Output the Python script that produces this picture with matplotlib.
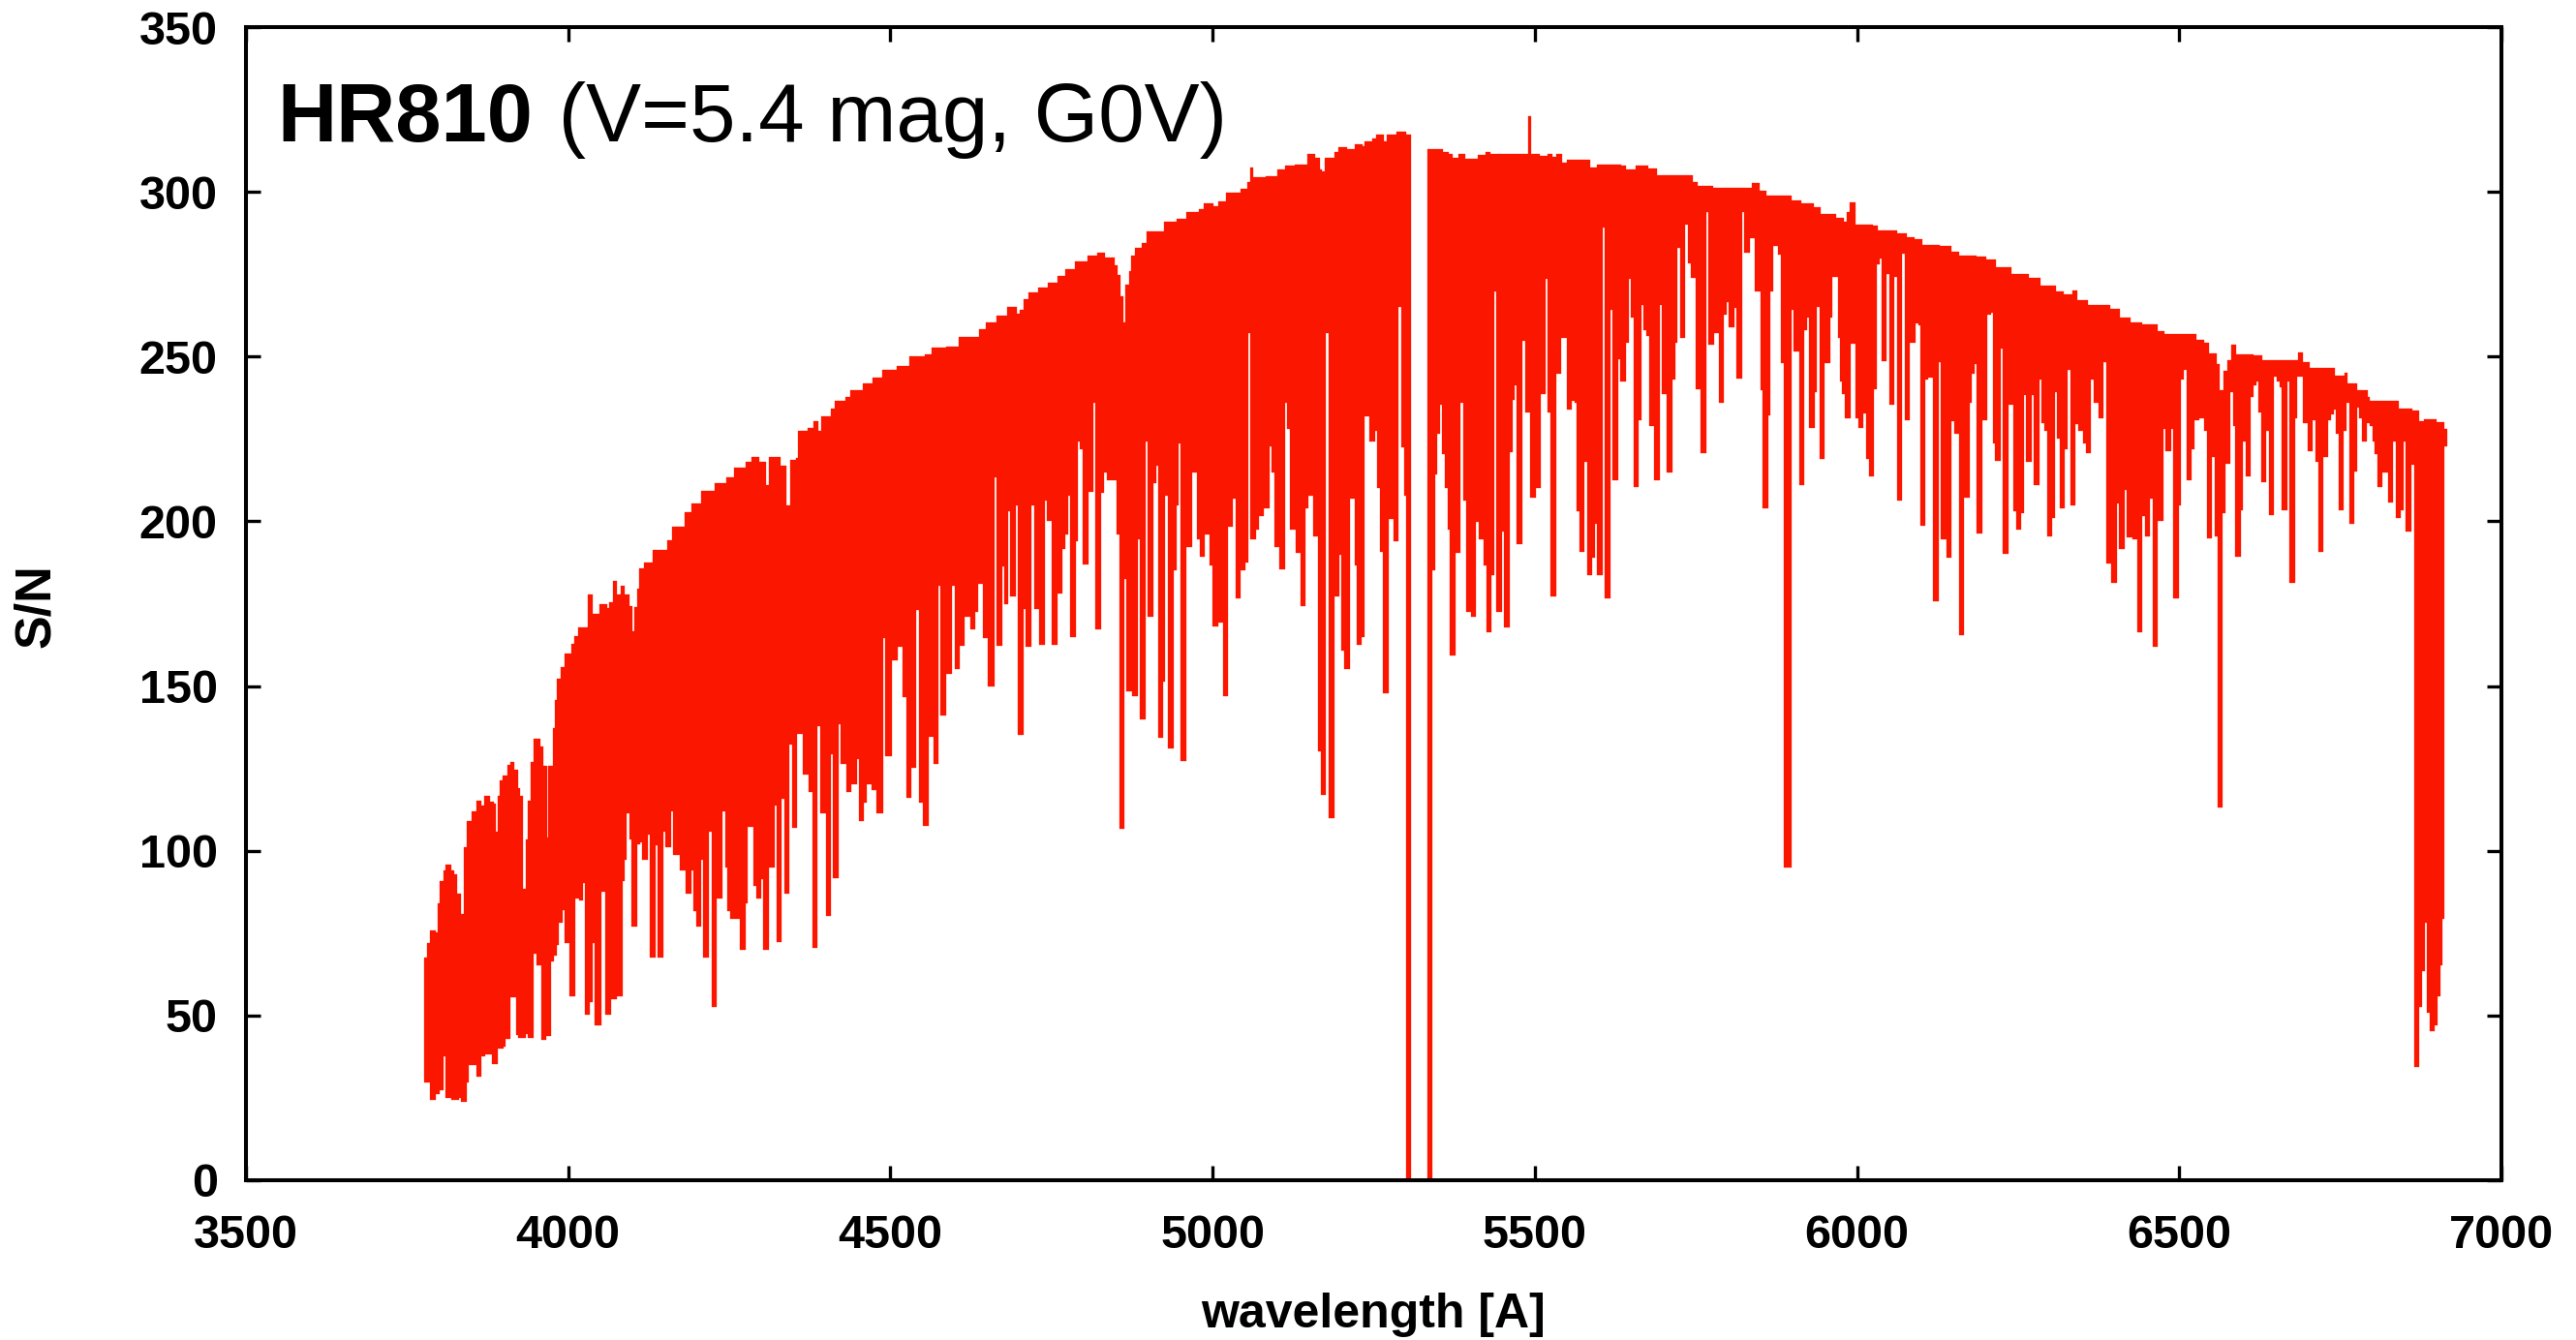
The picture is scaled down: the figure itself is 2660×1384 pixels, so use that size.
import numpy as np
import matplotlib
matplotlib.use("Agg")
import matplotlib.pyplot as plt

x_ticks = [3500, 4000, 4500, 5000, 5500, 6000, 6500, 7000]
y_ticks = [0, 50, 100, 150, 200, 250, 300, 350]
x_title = "wavelength [A]"
y_title = "S/N"
star_name = "HR810"
star_info = " (V=5.4 mag, G0V)"

# (wavelength, S/N); each value holds up to the next wavelength
upper_blue = [
 (3777,67.5),(3781,72.1),(3786,75.9),(3794,75.3),(3798,84.1),(3801,90.9),(3806,94.1),(3810,95.7),(3818,93.9),(3823,93),
 (3827,87),(3834,80.7),(3838,101.1),(3842,108.9),(3850,111.9),(3857,115.3),(3865,113.7),(3870,116.7),(3878,114.9),(3884,114.3),
 (3887,105.9),(3890,116.7),(3894,121.5),(3898,122.9),(3906,126.1),(3911,126.9),(3917,124.5),(3922,119.1),(3926,116.7),(3930,88.5),
 (3934,103.5),(3938,115.3),(3942,126.9),(3947,134.1),(3957,131.7),(3962,125.7),(3967,104.1),(3969,125.7),(3976,137.3),(3979,145.7),
 (3982,152.1),(3988,155.7),(3994,159.9),(4005,162.9),(4009,165.3),(4015,167.7),(4030,177.9),(4038,171.9),(4048,174.9),(4061,173.7),
 (4064,175.5),(4070,181.9),(4076,177.9),(4081,180.3),(4088,177.9),(4095,174.3),(4099,166.5),(4103,173.9),(4107,179.7),(4110,185.7),
 (4118,187.5),(4131,191.3),(4154,194.2),(4161,198.3),(4181,202.9),(4192,205.3),(4207,209.3),(4227,211.7),(4246,213.4),(4257,216.3),
 (4276,218),(4284,219.6),(4296,218),(4307,211),(4311,219.6),(4330,216.9),(4339,204.7),(4345,218.6),(4353,219.2),(4357,227.4),
 (4372,228.2),(4380,230.5),(4388,227.4),(4392,232),(4407,234.3),(4414,236.7),(4430,237.8),(4438,239.8),(4457,241.9),(4472,243.6),
 (4487,246),(4510,247.1),(4530,250),(4553,250.6),(4564,252.6),(4587,253),(4606,256.1),(4637,258.2),(4648,260.5),(4664,262.3),
 (4681,265),(4696,262.9),(4701,264.2),(4707,267.4),(4715,269.5),(4730,271),(4745,272.5),(4760,274.5),(4771,276.5),(4787,278.8),
 (4806,280.5),(4821,281.5),(4833,280.2),(4848,277.6),(4853,274.7),(4857,268.3),(4862,260.4),(4865,271.8),(4870,275.9),(4873,280.5),
 (4879,283.1),(4890,284.6),(4898,288.1),(4925,291),(4944,291.8),(4959,293.9),(4978,294.8),(4986,296.5),(5001,295.7),(5009,297.2),
 (5021,299.7),(5044,300.9),(5054,303),(5058,307.3),(5063,304.4),(5082,304.6),(5101,306.7),(5113,308.1),(5128,308.4),(5147,311.4),
 (5159,310.2),(5166,306.7),(5170,306.1),(5174,310.4),(5189,312),(5195,313.7),(5209,313.1),(5220,314.3),(5232,314),(5235,315.4),
 (5247,316.2),(5254,317.5),(5266,315.4),(5270,317.5),(5285,318.3),(5300,317.5),(5308,317.5),
]
upper_red = [
 (5333,312.9),(5358,312.2),(5366,311.4),(5373,310.4),(5381,311.4),(5392,310),(5412,311.1),(5423,312),(5431,311.4),(5489,323),
 (5494,311.4),(5507,310.8),(5519,311.4),(5527,310.5),(5534,311.4),(5542,309),(5550,309.8),(5577,309.6),(5586,307.5),(5596,308.2),
 (5634,308.1),(5642,306.7),(5657,307.9),(5676,307),(5689,305),(5745,303),(5753,301.8),(5776,301.1),(5825,301.1),(5837,302.6),
 (5849,300.3),(5860,298.8),(5891,298.8),(5899,297.4),(5914,296.5),(5933,295.2),(5944,293.4),(5967,292.2),(5979,290.8),(5984,294),
 (5988,296.8),(5998,290),(6025,289.8),(6032,288.4),(6063,287.4),(6078,286.3),(6090,285.6),(6101,283.8),(6128,283.5),(6147,281.7),
 (6159,280.5),(6186,280.3),(6201,279.5),(6216,277.2),(6239,275.1),(6266,273.8),(6285,271.4),(6309,269.8),(6320,268.8),(6334,270.1),
 (6342,267.2),(6358,265.6),(6393,264.6),(6408,261.7),(6424,260.4),(6443,259.9),(6466,257.7),(6477,256.9),(6512,256.9),(6527,255.1),
 (6539,254.1),(6546,250.9),(6558,247.8),(6562,239.9),(6569,245.7),(6575,248.8),(6581,253.6),(6588,250.6),(6615,250.4),(6629,249),
 (6677,248.8),(6684,251.2),(6692,248.3),(6703,246.7),(6742,244.1),(6757,245.2),(6761,242),(6776,239.7),(6792,237.8),(6796,236.5),
 (6831,236.5),(6841,234.1),(6861,233.6),(6872,230.5),(6880,231),(6899,230.2),(6911,228),(6916,228),
]
lower_blue = [
 (3777,29.7),(3786,24.5),(3794,26.1),(3800,27.3),(3806,37.5),(3810,24.9),(3819,24.3),(3831,24.9),(3834,23.7),(3842,29.7),
 (3846,35.1),(3857,31.5),(3865,37.5),(3871,38.1),(3882,35.3),(3890,39.9),(3900,40.5),(3903,42.9),(3910,55.5),(3919,44.1),
 (3923,43.3),(3934,44.5),(3938,43.3),(3946,68.7),(3951,65.1),(3959,42.5),(3966,43.9),(3974,66.3),(3978,68.1),(3982,71.3),
 (3986,78.3),(3991,82.1),(3994,72.1),(4002,55.7),(4011,85.5),(4017,84.9),(4023,90.1),(4026,50.3),(4034,54.1),(4038,72.1),
 (4041,47.1),(4051,87.7),(4057,88.5),(4058,50.3),(4066,54.9),(4076,55.7),(4084,90.9),(4087,97.3),(4091,111.3),(4095,103.5),
 (4098,76.9),(4107,102.1),(4112,102.7),(4114,97.3),(4123,104.9),(4126,67.5),(4135,101.7),(4138,67.5),(4147,105.7),(4151,101.1),
 (4159,111.9),(4162,98.7),(4174,94.1),(4183,86.9),(4191,93.9),(4195,81.7),(4199,76.9),(4206,97.3),(4210,67.5),(4219,105.7),
 (4223,52.5),(4231,85.5),(4239,111.9),(4244,94.9),(4247,81.7),(4251,79.3),(4266,69.9),(4275,84.1),(4279,107.3),(4287,89.3),
 (4292,85.5),(4300,91.5),(4302,69.9),(4311,94.9),(4320,113.7),(4323,72.3),(4331,115.7),(4335,87.1),(4343,132.3),(4347,106.9),
 (4355,135.5),(4364,123.1),(4373,117.7),(4379,70.5),(4387,137.9),(4391,111.3),(4400,80.1),(4408,129.3),(4411,91.7),(4420,138.5),
 (4423,126.3),(4431,117.7),(4439,120.1),(4448,127.7),(4452,108.9),(4459,114.5),(4463,120.1),(4471,118.5),(4479,111.3),(4489,164.7),
 (4492,128.7),(4503,157.7),(4512,162),(4519,146.7),(4525,116.1),(4532,125.3),(4540,173.1),(4544,114.5),(4551,107.5),(4559,134.7),
 (4567,126.3),(4575,180.3),(4578,141),(4587,153.7),(4596,180.3),(4600,155.3),(4607,162.3),(4615,170.9),(4624,167.1),(4632,172.5),
 (4636,180.9),(4643,164.7),(4651,149.8),(4661,213.4),(4664,162.3),(4674,186.3),(4676,174.9),(4683,203),(4686,177.1),(4695,204.7),
 (4698.2,135.1),(4706,173.4),(4710.3,161.9),(4719,204.7),(4722.8,173.4),(4731,162.4),(4739.3,206.3),(4742.3,200.2),(4751,162.4),(4759.4,178.1),
 (4767,191.5),(4772,196),(4775.4,207.8),(4778.4,165),(4788,193.9),(4791.4,224.1),(4794.4,221.9),(4798.4,186.8),(4807,208.8),(4815,235.9),
 (4818.5,167.1),(4827,208.6),(4831.5,214.9),(4835.5,212.5),(4851,196),(4855,106.7),(4863,182.6),(4866.6,148.4),(4874.6,146.9),(4883.6,194.4),
 (4886.6,139.8),(4895.6,224.1),(4898.6,171.1),(4908.2,211.7),(4912.7,217),(4915.2,134.3),(4923.7,151.4),(4926.7,207.7),(4930.7,131.2),(4939.7,185.2),
 (4943.7,204.7),(4947.2,223.5),(4950.7,127.2),(4959.8,192.1),(4967.8,214.9),(4975.3,194.6),(4979.8,189.2),(4987.8,196),(4995.8,186.5),(4999.8,168),
 (5008.4,169.2),(5016.4,146.8),(5024,198.4),(5032,207),(5035.4,176.6),(5044,185.2),(5051.4,187.6),(5056,257.2),(5059,194.6),(5067.5,197.6),
 (5071.5,201.5),(5080,204),(5088,222.8),(5091.5,214.9),(5096,192.1),(5104,185.4),(5112,235.9),(5116,228),(5120.6,197.6),(5128.6,190.5),
 (5136,174.2),(5144,204),(5148,207.7),(5155.7,195.5),(5164.2,130.1),(5167.7,116.9),(5176.2,257.2),(5179.7,109.9),(5188.7,177.1),(5196.2,189.7),
 (5199.7,160.8),(5204.2,155.3),(5212.8,207),(5220.8,186.7),(5224.3,162.4),(5231.8,164.8),(5236.3,232),(5243.8,224.3),(5251.8,227.5),(5255.4,210.2),
 (5260.4,190.7),(5264.4,147.7),(5272.9,200.7),(5280.4,193.9),(5288.4,265),(5292.4,222.5),(5297,207.8),(5300.4,0),(5308,0),
]
lower_red = [
 (5333,0),(5340.5,185.2),(5345,214.1),(5348.5,226.7),(5352.5,235.3),(5356,220.4),(5360.6,210.2),(5365,197.6),(5368.6,159.3),(5377,190.5),
 (5385,236),(5388.6,206.2),(5393,172.6),(5401,171),(5409,199.9),(5413,194.4),(5421,186.6),(5425,166.3),(5433,183.6),(5437.2,269.8),
 (5440.7,172.6),(5449.2,196.8),(5452.7,167.9),(5460.8,221.1),(5465.3,236.9),(5469.3,241.4),(5472.3,193.1),(5481.3,254.7),(5484.8,233),(5493.3,207.1),
 (5501.3,210.2),(5509.4,238.5),(5516.9,273.6),(5520.4,233),(5524.9,177.1),(5533.4,244.8),(5541.4,255.6),(5549.4,233.8),(5557.4,236.7),(5561.5,235.9),
 (5565,203.1),(5569.5,190.7),(5577.5,218),(5581,183.6),(5589,188.9),(5593,199.1),(5597,183.6),(5605.5,289.3),(5608.5,176.6),(5617.6,264.2),
 (5620.6,212.5),(5629.6,249.3),(5632.6,242.4),(5641.6,254.2),(5645.6,273.6),(5649.1,261.9),(5653.6,210.4),(5661.7,230.6),(5665.7,265.8),(5669.2,257.9),
 (5673.7,256.3),(5677.7,229),(5685.7,212.5),(5693.7,265.8),(5697.2,238.5),(5705.2,214.9),(5713.3,243),(5717.8,254.2),(5721.8,282.9),(5725.3,255.8),
 (5733.8,290),(5737.8,278.4),(5741.8,273.9),(5749.8,240),(5757.8,220.6),(5765.9,294),(5769.9,253.5),(5777.9,257.2),(5785.4,236.1),(5793.4,262.6),
 (5797.9,266.4),(5801.4,258.9),(5809.9,264.8),(5813.5,243.2),(5822,294),(5825.5,281.6),(5834,286),(5842,269.8),(5850,239.8),(5854,203.9),
 (5862,232.2),(5866,269.8),(5870.6,283.7),(5878,280.8),(5882,247.9),(5886,95),(5898.5,264.2),(5902,251.7),(5910,211),(5918,257.9),
 (5922,261.7),(5926,228.3),(5934,239.3),(5938,265),(5941.6,218.8),(5950,247.9),(5958,261.9),(5962,274.3),(5970,255.8),(5974,242.5),
 (5977,238.5),(5981.7,231.4),(5990.2,254),(5998.2,231.4),(6002.2,228.3),(6010.3,232.8),(6013.8,218.8),(6018.3,213.5),(6026.3,240),(6030.8,278.1),
 (6034.8,279.7),(6038.3,248.7),(6046.3,275),(6050.3,235.4),(6058.3,274.3),(6061.9,206.4),(6070.4,281.3),(6073.9,230.7),(6082.4,254.2),(6090.4,260.1),
 (6094.9,259.5),(6098.4,198.6),(6106.4,243),(6111,243.7),(6118.5,175.7),(6126.5,248.4),(6130,194.5),(6138.5,189.1),(6146.5,230.4),(6150.5,226.7),
 (6158.5,165.5),(6166.6,207.1),(6174.6,236.1),(6178.6,244.8),(6182.6,247.7),(6186.1,196.4),(6194.6,230.7),(6202.6,262.7),(6207.6,263.2),(6211.2,223.5),
 (6214.7,218.3),(6222.7,252.4),(6226.7,190),(6235.2,235.3),(6242.7,203.1),(6246.7,197.6),(6254.7,202.6),(6258.7,238.3),(6262.8,218.1),(6271.3,238.3),
 (6274.8,211),(6282.8,243),(6286.8,229.9),(6290.8,227.5),(6294.8,195.4),(6302.8,201),(6306.8,239.1),(6310.9,225.1),(6314.9,203.9),(6322.9,222),
 (6326.9,246.1),(6330.9,204.7),(6338.9,229.6),(6342.9,227.5),(6350.9,223.5),(6354.9,220.6),(6363,243),(6367,236.1),(6375,231.4),(6383,248.4),
 (6387,187.3),(6395,181.2),(6403,205.4),(6407,191.5),(6415,209.4),(6419,195.2),(6427,194.4),(6435.1,166.3),(6443.1,201.5),(6447.1,195.4),
 (6455.1,207),(6459.1,161.8),(6467.1,200.1),(6475.2,228.1),(6479.2,221.2),(6487.2,228.1),(6491.2,176.6),(6499.2,204.7),(6503.2,243),(6507.2,246.1),
 (6511.3,212.5),(6519.3,222),(6523.3,230.6),(6531.3,231.4),(6539.3,227.5),(6543.3,194.7),(6551.3,219.6),(6555.3,195.5),(6559.4,113.1),(6567.4,202.5),
 (6571.4,217.5),(6579.4,239.2),(6583.4,229),(6587.4,189.2),(6595.4,203.3),(6599.4,224.3),(6603.4,213.5),(6611.5,237.7),(6615.5,241.4),(6619.5,242.4),
 (6623.5,233),(6627.5,211.9),(6635.5,227.5),(6639.5,201.8),(6647.5,244),(6651.5,242.5),(6655.5,240.8),(6659.6,203.3),(6667.6,242.4),(6671.6,181.3),
 (6679.6,231.4),(6683.6,244),(6691.6,229.9),(6699.6,221.2),(6707.6,230.6),(6711.7,218),(6715.7,190.7),(6723.7,219.6),(6731.7,230.6),(6735.7,232.4),
 (6739.7,233.8),(6743.7,226.7),(6747.7,203.3),(6755.7,227.5),(6759.7,236.1),(6763.8,199.3),(6771.8,215.1),(6775.8,234.5),(6779.8,231.4),(6783.8,224.3),
 (6791.8,229.8),(6795.8,228.8),(6799.8,224.3),(6803.8,220.4),(6807.8,210.4),(6815.9,214.9),(6823.9,205.6),(6831.9,224.3),(6835.9,200.9),(6843.9,203.3),
 (6847.9,224.3),(6851.9,197),(6859.9,217.2),(6864,34.5),(6873,52.5),(6877,63.6),(6881,78.2),(6884,50.9),(6889,45.4),(6896,46.9),
 (6901,55.8),(6905,65.1),(6908.4,79.2),(6911,222.8),(6916,222.8),
]


def step_outline(pairs):
    arr = np.asarray(pairs, dtype=float)
    return np.repeat(arr[:, 0], 2)[1:-1], np.repeat(arr[:, 1][:-1], 2)


W, H = 2660, 1384
fig = plt.figure(figsize=(W / 100, H / 100), dpi=100, facecolor="white")
ax = fig.add_axes([254 / W, 1 - 1219 / H, (2583 - 254) / W, (1219 - 28) / H])

red = "#FB1600"
for up, lo in ((upper_blue, lower_blue), (upper_red, lower_red)):
    ux, uy = step_outline(up)
    lx, ly = step_outline(lo)
    ax.fill(np.r_[ux, lx[::-1]], np.r_[uy, ly[::-1]], color=red, lw=0.2, zorder=2)

ax.set_xlim(3500, 7000)
ax.set_ylim(0, 350)
ax.set_xticks(x_ticks)
ax.set_yticks(y_ticks)

font = "Liberation Sans"
ax.tick_params(axis="both", which="major", direction="in", length=10.5, width=2.4,
               top=True, right=True, labelsize=35)
ax.tick_params(axis="x", pad=25)
ax.tick_params(axis="y", pad=21)
for lab in ax.get_xticklabels() + ax.get_yticklabels():
    lab.set_fontfamily(font)
    lab.set_fontweight("bold")
for s in ax.spines.values():
    s.set_linewidth(2.9)
    s.set_zorder(5)

fig.text(1418 / W, 1 - 1358 / H, x_title, family=font, weight="bold", fontsize=36,
         ha="center", va="center")
fig.text(38 / W, 1 - 626 / H, y_title, family=font, weight="bold", fontsize=37.5,
         rotation=90, ha="center", va="center")

fig.text(286 / W, 1 - 146 / H, star_name, family=font, weight="bold", fontsize=61,
         ha="left", va="baseline")
fig.text(553 / W, 1 - 146 / H, star_info, family=font, fontsize=61.5,
         ha="left", va="baseline")

fig.savefig("out.png", dpi=100, facecolor="white")
